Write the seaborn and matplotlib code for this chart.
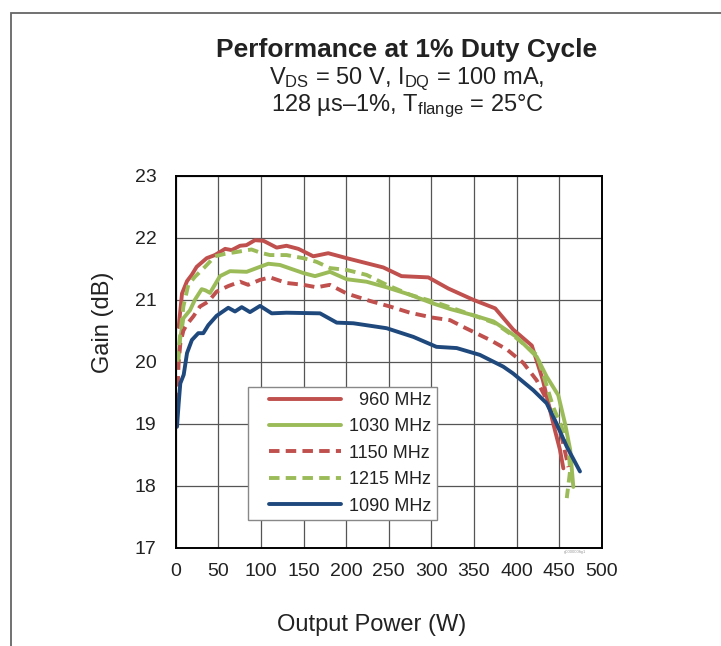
import numpy as np
import pandas as pd
import matplotlib
matplotlib.use("Agg")
import matplotlib.pyplot as plt
import seaborn as sns
from matplotlib.patches import Rectangle
from matplotlib.legend_handler import HandlerLine2D

# ---------------- data ----------------
x_960 = [3.5, 7.4, 13.3, 18.8, 24.6, 36.4, 46, 58, 65.7, 75.5, 83, 93, 103, 118.5, 130, 144,
         161.5, 179, 200.7, 243.7, 265, 296.5, 320, 349, 375, 396, 418, 431, 437, 445, 451, 455]
y_960 = [20.56, 21.10, 21.30, 21.40, 21.53, 21.67, 21.72, 21.82, 21.80, 21.87, 21.88, 21.96, 21.95,
         21.84, 21.87, 21.82, 21.70, 21.75, 21.67, 21.52, 21.38, 21.36, 21.18, 21.00, 20.86, 20.52,
         20.26, 19.70, 19.35, 18.90, 18.58, 18.28]

x_1030 = [2.5, 5, 9, 16.8, 22.6, 30.5, 35, 40.3, 52, 63.7, 83.3, 95, 108.7, 122.4, 149.8, 163.5,
          181, 200.7, 224, 247.6, 275, 302, 322, 349, 373, 400, 423.7, 435.4, 449, 457, 463, 466.7]
y_1030 = [19.90, 20.35, 20.70, 20.83, 21.00, 21.17, 21.15, 21.11, 21.38, 21.46, 21.45, 21.51, 21.58,
          21.56, 21.43, 21.38, 21.45, 21.33, 21.29, 21.20, 21.08, 20.94, 20.85, 20.75, 20.65, 20.40,
          20.08, 19.76, 19.46, 19.00, 18.58, 17.98]

x_1150 = [1.5, 3.5, 5.5, 9, 13, 20.7, 28.5, 38.3, 48, 61.7, 75.5, 85, 99, 110.7, 130, 149.8, 165.5,
          181, 200.7, 228, 251.5, 275, 302, 322, 337.6, 369, 388.5, 408, 423.7, 433.5, 443, 453, 461]
y_1150 = [19.33, 20.00, 20.30, 20.50, 20.60, 20.73, 20.89, 20.97, 21.13, 21.22, 21.29, 21.24, 21.32,
          21.36, 21.27, 21.24, 21.20, 21.24, 21.10, 20.98, 20.89, 20.79, 20.71, 20.67, 20.56, 20.35,
          20.20, 19.98, 19.70, 19.44, 19.11, 18.79, 18.30]

x_1215 = [2, 5, 9, 14.8, 22.6, 34.4, 46, 58, 71.6, 89, 99, 110.7, 130, 149.8, 165.5, 181, 200.7,
          224, 247.6, 275, 302, 325.8, 349, 375, 400, 423.7, 431, 443, 453, 461, 463, 459]
y_1215 = [20.00, 20.40, 20.89, 21.24, 21.37, 21.53, 21.70, 21.74, 21.77, 21.81, 21.76, 21.72, 21.72,
          21.67, 21.61, 21.51, 21.48, 21.40, 21.24, 21.08, 20.97, 20.86, 20.75, 20.62, 20.38, 20.11,
          19.81, 19.27, 18.95, 18.58, 18.25, 17.80]

x_1090 = [1.5, 3.5, 5.4, 9.4, 13.3, 19, 26.5, 32.4, 38.3, 48, 61.7, 69.6, 77.5, 87.2, 99, 112.7,
          130, 169.4, 189, 208.5, 247.6, 279, 306, 329.8, 357, 384.5, 396, 419.7, 435.4, 447, 459, 474.5]
y_1090 = [18.95, 19.33, 19.65, 19.79, 20.14, 20.35, 20.46, 20.46, 20.59, 20.74, 20.87, 20.81, 20.88,
          20.80, 20.90, 20.78, 20.79, 20.78, 20.63, 20.62, 20.54, 20.40, 20.24, 20.22, 20.11, 19.92,
          19.81, 19.54, 19.33, 19.00, 18.63, 18.23]

labels = ["\u2007960 MHz", "1030 MHz", "1150 MHz", "1215 MHz", "1090 MHz"]
x_ticks = [0, 50, 100, 150, 200, 250, 300, 350, 400, 450, 500]
y_ticks = [17, 18, 19, 20, 21, 22, 23]

series = [
    (x_960, y_960, "#C0504D", "-"),
    (x_1030, y_1030, "#9BBB59", "-"),
    (x_1150, y_1150, "#C0504D", "--"),
    (x_1215, y_1215, "#9BBB59", "--"),
    (x_1090, y_1090, "#1F497D", "-"),
]

# ---------------- style ----------------
sns.set_theme(style="white")
plt.rcParams["font.family"] = ["Liberation Sans", "DejaVu Sans"]
plt.rcParams.update({
    "mathtext.fontset": "custom",
    "mathtext.rm": "Liberation Sans",
    "mathtext.it": "Liberation Sans:italic",
    "mathtext.bf": "Liberation Sans:bold",
    "text.color": "#222222",
})

fig = plt.figure(figsize=(7.21, 6.46), dpi=100)
ax = fig.add_axes([175.7 / 721, 1 - 547.7 / 646, 426 / 721, 372 / 646])

for (xs, ys, col, ls), lab in zip(series, labels):
    df = pd.DataFrame({"P": xs, "G": ys})
    sns.lineplot(data=df, x="P", y="G", ax=ax, color=col, linestyle=ls, lw=2.8,
                 sort=False, estimator=None, label=lab)
    if ls == "--":
        ax.lines[-1].set_dashes([2.7, 1.6])

ax.set_xlim(0, 500)
ax.set_ylim(17, 23)
ax.set_xticks(x_ticks)
ax.set_yticks(y_ticks)
ax.tick_params(axis="both", length=0, labelsize=14, colors="#222222")
ax.tick_params(axis="x", pad=11)
ax.tick_params(axis="y", pad=14)
ax.grid(True, color="#555555", lw=0.9)
ax.set_axisbelow(True)
for sp in ax.spines.values():
    sp.set_color("black")
    sp.set_linewidth(1.4)

ax.set_xlabel("Output Power (W)", fontsize=17, va="center", color="#222222")
ax.set_ylabel("Gain (dB)", fontsize=17, va="center", color="#222222")
ax.xaxis.set_label_coords((372 - 175.7) / 426, (547.7 - 625) / 372)
ax.yaxis.set_label_coords((103 - 175.7) / 426, (547.7 - 322) / 372)

fs = 13
leg = ax.legend(loc="lower left", bbox_to_anchor=((248.3 - 175.7) / 426, (547.7 - 520) / 372),
                borderaxespad=0, frameon=True, fancybox=False, edgecolor="#888888",
                framealpha=1, fontsize=fs, borderpad=0.3, labelspacing=0.52,
                handlelength=4.85, handletextpad=0.45,
                handler_map={matplotlib.lines.Line2D: HandlerLine2D(xpad=0.85)})
leg.get_frame().set_linewidth(1.0)
for t in leg.get_texts():
    t.set_color("#222222")

# titles
fig.text(407 / 721, 1 - 57 / 646, "Performance at 1% Duty Cycle", ha="center", va="baseline",
         fontsize=19, fontweight="bold", color="#222222")
fig.text(407 / 721, 1 - 84 / 646, r"V$_\mathregular{DS}$ = 50 V, I$_\mathregular{DQ}$ = 100 mA,",
         ha="center", va="baseline", fontsize=17, color="#222222")
fig.text(407 / 721, 1 - 111 / 646, r"128 µs–1%, T$_\mathregular{flange}$ = 25°C",
         ha="center", va="baseline", fontsize=17, color="#222222")

fig.text(575 / 721, 1 - 552 / 646, "g000000fig1", ha="center", va="center",
         fontsize=3, color="#999999")

# outer frame of the figure
fig.patches.append(Rectangle((10.8 / 721, -0.2), 2.0, 1.2 - 13.2 / 646, transform=fig.transFigure,
                             fill=False, edgecolor="#666666", lw=1.3))

fig.savefig("out.png", dpi=100)
